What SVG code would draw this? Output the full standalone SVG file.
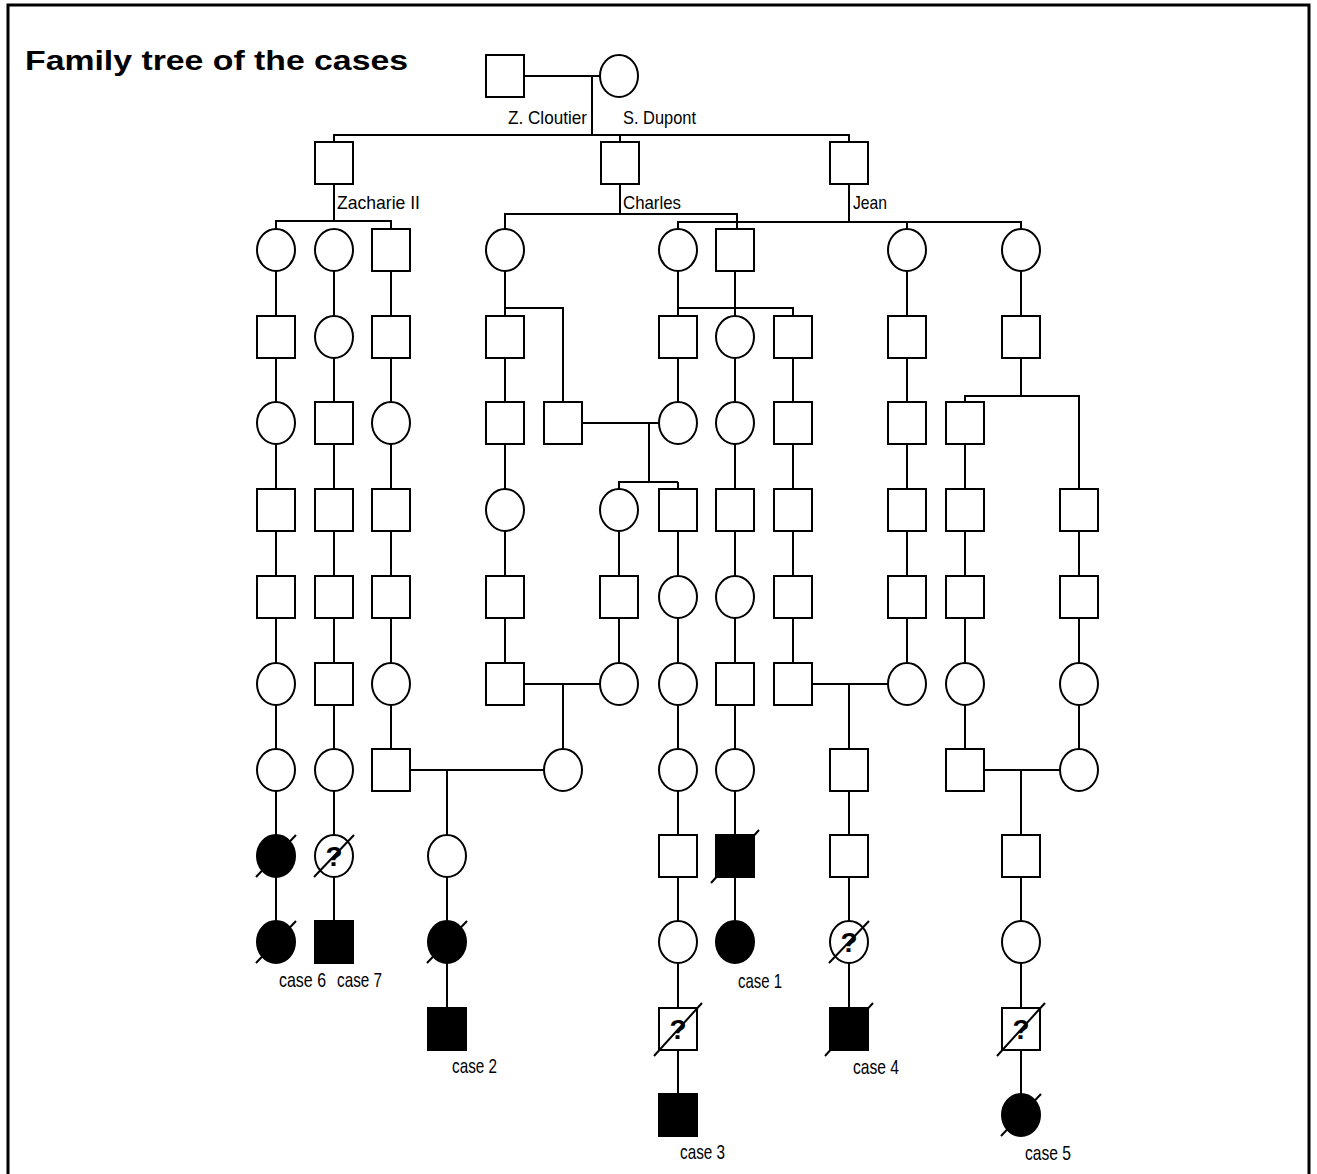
<svg xmlns="http://www.w3.org/2000/svg" xmlns:xlink="http://www.w3.org/1999/xlink" width="1317" height="1174" viewBox="0 0 1317 1174">
<style>
.o{fill:#fff;stroke:#000;stroke-width:2}
.f{fill:#000;stroke:#000;stroke-width:2}
.s{stroke:#000;stroke-width:2;fill:none}
.q{font-family:"Liberation Sans",Arial,sans-serif;font-weight:bold;font-size:28px;fill:#000;text-anchor:middle}
.lb{font-family:"Liberation Sans",Arial,sans-serif;font-size:19px;fill:#000}
.cs{font-family:"Liberation Sans",Arial,sans-serif;font-size:21px;fill:#000}
</style>
<defs>
<rect id="sq" x="-19" y="-21" width="38" height="42"/>
<ellipse id="ci" rx="19" ry="21"/>
<line id="dsq" x1="-24" y1="27" x2="24" y2="-26"/>
<line id="dci" x1="-20" y1="21" x2="20" y2="-21"/>
</defs>
<rect width="1317" height="1174" fill="#fff"/>
<path d="M8 1174 V5 H1309 V1174" fill="none" stroke="#000" stroke-width="3"/>
<text x="25" y="70" font-family="'Liberation Sans',Arial,sans-serif" font-weight="bold" font-size="27" textLength="383" lengthAdjust="spacingAndGlyphs">Family tree of the cases</text>
<g id="connectors" class="s">
<path d="M524 76 H600 M592 76 V135 M334 142 V135 H849 V142 M620 135 V142"/>
<path d="M334 184 V221 M276 229 V221 H391 V229"/>
<path d="M620 184 V214 M505 229 V214 H737 V229"/>
<path d="M849 184 V222 M678 229 V222 H1021 V229 M907 222 V229"/>
<path d="M276 250 V942 M334 250 V942 M391 250 V770"/>
<path d="M505 250 V684 M505 308 H563 V423"/>
<path d="M678 250 V423 M678 308 H793 V337 M735 250 V942"/>
<path d="M563 423 H678 M649 423 V482 M619 510 V482 H678 M678 482 V1115"/>
<path d="M619 482 V684 M505 684 H619 M563 684 V770 M391 770 H563 M447 770 V1029"/>
<path d="M793 308 V684 M793 684 H907 M849 684 V1029 M907 250 V684"/>
<path d="M1021 250 V396 M965 423 V396 H1079 V510 M965 423 V770 M1079 510 V770 M965 770 H1079 M1021 770 V1115"/>
</g>
<g id="nodes">
<g id="z_cloutier"><use href="#sq" x="505" y="76" class="o"/><text class="lb" x="508" y="124" textLength="79" lengthAdjust="spacingAndGlyphs">Z. Cloutier</text></g>
<g id="s_dupont"><use href="#ci" x="619" y="76" class="o"/><text class="lb" x="623" y="124" textLength="73" lengthAdjust="spacingAndGlyphs">S. Dupont</text></g>
<g id="zacharie"><use href="#sq" x="334" y="163" class="o"/><text class="lb" x="337" y="209" textLength="83" lengthAdjust="spacingAndGlyphs">Zacharie II</text></g>
<g id="charles"><use href="#sq" x="620" y="163" class="o"/><text class="lb" x="623" y="209" textLength="58" lengthAdjust="spacingAndGlyphs">Charles</text></g>
<g id="jean"><use href="#sq" x="849" y="163" class="o"/><text class="lb" x="853" y="209" textLength="34" lengthAdjust="spacingAndGlyphs">Jean</text></g>
<g id="r2a"><use href="#ci" x="276" y="250" class="o"/></g>
<g id="r2b"><use href="#ci" x="334" y="250" class="o"/></g>
<g id="r2c"><use href="#sq" x="391" y="250" class="o"/></g>
<g id="r2d"><use href="#ci" x="505" y="250" class="o"/></g>
<g id="r2g"><use href="#ci" x="678" y="250" class="o"/></g>
<g id="r2h"><use href="#sq" x="735" y="250" class="o"/></g>
<g id="r2k"><use href="#ci" x="907" y="250" class="o"/></g>
<g id="r2m"><use href="#ci" x="1021" y="250" class="o"/></g>
<g id="r3a"><use href="#sq" x="276" y="337" class="o"/></g>
<g id="r3b"><use href="#ci" x="334" y="337" class="o"/></g>
<g id="r3c"><use href="#sq" x="391" y="337" class="o"/></g>
<g id="r3d"><use href="#sq" x="505" y="337" class="o"/></g>
<g id="r3g"><use href="#sq" x="678" y="337" class="o"/></g>
<g id="r3h"><use href="#ci" x="735" y="337" class="o"/></g>
<g id="r3i"><use href="#sq" x="793" y="337" class="o"/></g>
<g id="r3k"><use href="#sq" x="907" y="337" class="o"/></g>
<g id="r3m"><use href="#sq" x="1021" y="337" class="o"/></g>
<g id="r4a"><use href="#ci" x="276" y="423" class="o"/></g>
<g id="r4b"><use href="#sq" x="334" y="423" class="o"/></g>
<g id="r4c"><use href="#ci" x="391" y="423" class="o"/></g>
<g id="r4d"><use href="#sq" x="505" y="423" class="o"/></g>
<g id="r4e"><use href="#sq" x="563" y="423" class="o"/></g>
<g id="r4g"><use href="#ci" x="678" y="423" class="o"/></g>
<g id="r4h"><use href="#ci" x="735" y="423" class="o"/></g>
<g id="r4i"><use href="#sq" x="793" y="423" class="o"/></g>
<g id="r4k"><use href="#sq" x="907" y="423" class="o"/></g>
<g id="r4l"><use href="#sq" x="965" y="423" class="o"/></g>
<g id="r5a"><use href="#sq" x="276" y="510" class="o"/></g>
<g id="r5b"><use href="#sq" x="334" y="510" class="o"/></g>
<g id="r5c"><use href="#sq" x="391" y="510" class="o"/></g>
<g id="r5d"><use href="#ci" x="505" y="510" class="o"/></g>
<g id="r5f"><use href="#ci" x="619" y="510" class="o"/></g>
<g id="r5g"><use href="#sq" x="678" y="510" class="o"/></g>
<g id="r5h"><use href="#sq" x="735" y="510" class="o"/></g>
<g id="r5i"><use href="#sq" x="793" y="510" class="o"/></g>
<g id="r5k"><use href="#sq" x="907" y="510" class="o"/></g>
<g id="r5l"><use href="#sq" x="965" y="510" class="o"/></g>
<g id="r5n"><use href="#sq" x="1079" y="510" class="o"/></g>
<g id="r6a"><use href="#sq" x="276" y="597" class="o"/></g>
<g id="r6b"><use href="#sq" x="334" y="597" class="o"/></g>
<g id="r6c"><use href="#sq" x="391" y="597" class="o"/></g>
<g id="r6d"><use href="#sq" x="505" y="597" class="o"/></g>
<g id="r6f"><use href="#sq" x="619" y="597" class="o"/></g>
<g id="r6g"><use href="#ci" x="678" y="597" class="o"/></g>
<g id="r6h"><use href="#ci" x="735" y="597" class="o"/></g>
<g id="r6i"><use href="#sq" x="793" y="597" class="o"/></g>
<g id="r6k"><use href="#sq" x="907" y="597" class="o"/></g>
<g id="r6l"><use href="#sq" x="965" y="597" class="o"/></g>
<g id="r6n"><use href="#sq" x="1079" y="597" class="o"/></g>
<g id="r7a"><use href="#ci" x="276" y="684" class="o"/></g>
<g id="r7b"><use href="#sq" x="334" y="684" class="o"/></g>
<g id="r7c"><use href="#ci" x="391" y="684" class="o"/></g>
<g id="r7d"><use href="#sq" x="505" y="684" class="o"/></g>
<g id="r7f"><use href="#ci" x="619" y="684" class="o"/></g>
<g id="r7g"><use href="#ci" x="678" y="684" class="o"/></g>
<g id="r7h"><use href="#sq" x="735" y="684" class="o"/></g>
<g id="r7i"><use href="#sq" x="793" y="684" class="o"/></g>
<g id="r7k"><use href="#ci" x="907" y="684" class="o"/></g>
<g id="r7l"><use href="#ci" x="965" y="684" class="o"/></g>
<g id="r7n"><use href="#ci" x="1079" y="684" class="o"/></g>
<g id="r8a"><use href="#ci" x="276" y="770" class="o"/></g>
<g id="r8b"><use href="#ci" x="334" y="770" class="o"/></g>
<g id="r8c"><use href="#sq" x="391" y="770" class="o"/></g>
<g id="r8e"><use href="#ci" x="563" y="770" class="o"/></g>
<g id="r8g"><use href="#ci" x="678" y="770" class="o"/></g>
<g id="r8h"><use href="#ci" x="735" y="770" class="o"/></g>
<g id="r8j"><use href="#sq" x="849" y="770" class="o"/></g>
<g id="r8l"><use href="#sq" x="965" y="770" class="o"/></g>
<g id="r8n"><use href="#ci" x="1079" y="770" class="o"/></g>
<g id="r9a"><use href="#ci" x="276" y="856" class="f"/><use href="#dci" x="276" y="856" class="s"/></g>
<g id="r9b"><use href="#ci" x="334" y="856" class="o"/><text class="q" x="334" y="866">?</text><use href="#dci" x="334" y="856" class="s"/></g>
<g id="r9x"><use href="#ci" x="447" y="856" class="o"/></g>
<g id="r9g"><use href="#sq" x="678" y="856" class="o"/></g>
<g id="r9h"><use href="#sq" x="735" y="856" class="f"/><use href="#dsq" x="735" y="856" class="s"/></g>
<g id="r9j"><use href="#sq" x="849" y="856" class="o"/></g>
<g id="r9m"><use href="#sq" x="1021" y="856" class="o"/></g>
<g id="case6"><use href="#ci" x="276" y="942" class="f"/><use href="#dci" x="276" y="942" class="s"/><text class="cs" x="279" y="987" textLength="47" lengthAdjust="spacingAndGlyphs">case 6</text></g>
<g id="case7"><use href="#sq" x="334" y="942" class="f"/><text class="cs" x="337" y="987" textLength="45" lengthAdjust="spacingAndGlyphs">case 7</text></g>
<g id="r10x"><use href="#ci" x="447" y="942" class="f"/><use href="#dci" x="447" y="942" class="s"/></g>
<g id="r10g"><use href="#ci" x="678" y="942" class="o"/></g>
<g id="case1"><use href="#ci" x="735" y="942" class="f"/><text class="cs" x="738" y="988" textLength="44" lengthAdjust="spacingAndGlyphs">case 1</text></g>
<g id="r10j"><use href="#ci" x="849" y="942" class="o"/><text class="q" x="849" y="952">?</text><use href="#dci" x="849" y="942" class="s"/></g>
<g id="r10m"><use href="#ci" x="1021" y="942" class="o"/></g>
<g id="case2"><use href="#sq" x="447" y="1029" class="f"/><text class="cs" x="452" y="1073" textLength="45" lengthAdjust="spacingAndGlyphs">case 2</text></g>
<g id="r11g"><use href="#sq" x="678" y="1029" class="o"/><text class="q" x="678" y="1039">?</text><use href="#dsq" x="678" y="1029" class="s"/></g>
<g id="case4"><use href="#sq" x="849" y="1029" class="f"/><use href="#dsq" x="849" y="1029" class="s"/><text class="cs" x="853" y="1074" textLength="46" lengthAdjust="spacingAndGlyphs">case 4</text></g>
<g id="r11m"><use href="#sq" x="1021" y="1029" class="o"/><text class="q" x="1021" y="1039">?</text><use href="#dsq" x="1021" y="1029" class="s"/></g>
<g id="case3"><use href="#sq" x="678" y="1115" class="f"/><text class="cs" x="680" y="1159" textLength="45" lengthAdjust="spacingAndGlyphs">case 3</text></g>
<g id="case5"><use href="#ci" x="1021" y="1115" class="f"/><use href="#dci" x="1021" y="1115" class="s"/><text class="cs" x="1025" y="1160" textLength="46" lengthAdjust="spacingAndGlyphs">case 5</text></g>
</g>
</svg>
